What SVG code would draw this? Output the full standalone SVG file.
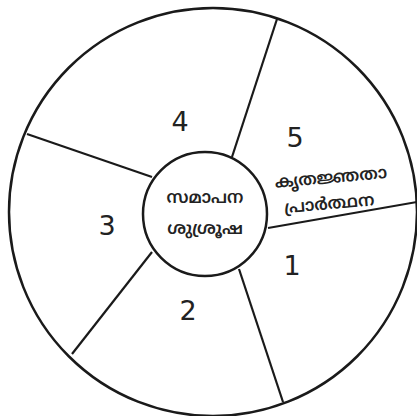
<svg xmlns="http://www.w3.org/2000/svg" width="417" height="416" viewBox="0 0 417 416">
<style>
.ring{fill:#fff;stroke:#1a1a1a;stroke-width:2.5}
.spoke{stroke:#1a1a1a;stroke-width:2.2;fill:none}
.num{font-family:"DejaVu Sans","Noto Sans",sans-serif;font-size:27px;fill:#222;text-anchor:middle}
.ml{font-family:"Noto Sans Malayalam","Noto Sans","DejaVu Sans",sans-serif;font-size:17px;font-weight:600;fill:#222;text-anchor:middle}
</style>
<rect width="417" height="416" fill="#fff"/>
<g id="outer"><circle class="ring" cx="213" cy="212" r="204"/></g>
<g id="connectors">
<line class="spoke" x1="232" y1="157" x2="277" y2="19"/>
<line class="spoke" x1="268" y1="228" x2="417" y2="202"/>
<line class="spoke" x1="239" y1="269" x2="283" y2="402"/>
<line class="spoke" x1="152" y1="252" x2="72" y2="354"/>
<line class="spoke" x1="152" y1="177" x2="27" y2="134"/>
</g>
<g id="segment1"><text class="num" x="292" y="275">1</text></g>
<g id="segment2"><text class="num" x="188" y="320">2</text></g>
<g id="segment3"><text class="num" x="107" y="235">3</text></g>
<g id="segment4"><text class="num" x="180" y="131">4</text></g>
<g id="segment5"><text class="num" x="295" y="147">5</text>
<g transform="rotate(-5 331 190)"><text class="ml" x="332" y="183">കൃതജ്ഞതാ</text><text class="ml" x="328" y="209">പ്രാർത്ഥന</text></g>
</g>
<g id="center"><circle class="ring" cx="205" cy="214" r="62"/>
<text class="ml" x="205" y="203">സമാപന</text>
<text class="ml" x="205" y="234">ശുശ്രൂഷ</text>
</g>
</svg>
